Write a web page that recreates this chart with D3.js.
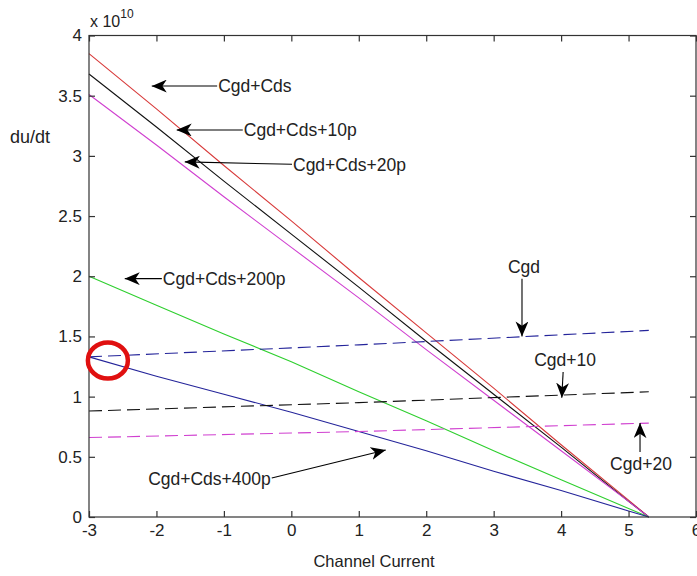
<!DOCTYPE html>
<html>
<head>
<meta charset="utf-8">
<script src="https://cdn.jsdelivr.net/npm/d3@7"></script>
<style>
  html, body { margin: 0; padding: 0; background: #fff; }
  svg { display: block; }
  text { font-family: "Liberation Sans", Arial, sans-serif; fill: #222; }
</style>
</head>
<body>
<svg id="chart" width="697" height="576"></svg>
<script>
// Axis ticks
const xTicks = [-3, -2, -1, 0, 1, 2, 3, 4, 5, 6];
const xTickLabels = ["-3", "-2", "-1", "0", "1", "2", "3", "4", "5", "6"];
const yTicks = [0, 0.5, 1, 1.5, 2, 2.5, 3, 3.5, 4];
const yTickLabels = ["0", "0.5", "1", "1.5", "2", "2.5", "3", "3.5", "4"];

// Channel current samples for the solid (Cgd+Cds family) curves
const currentSolid = [-3, -2, -1, 0, 1, 2, 3, 4, 5, 5.3];
// du/dt values, in units of 1e10
const dvCds    = [3.85, 3.39, 2.92, 2.46, 1.99, 1.53, 1.07, 0.60, 0.14, 0];
const dvCds10  = [3.68, 3.24, 2.79, 2.35, 1.91, 1.46, 1.02, 0.58, 0.13, 0];
const dvCds20  = [3.51, 3.09, 2.66, 2.24, 1.82, 1.39, 0.97, 0.55, 0.13, 0];
const dvCds200 = [2.00, 1.76, 1.52, 1.29, 1.04, 0.80, 0.55, 0.31, 0.07, 0];
const dvCds400 = [1.33, 1.17, 1.02, 0.87, 0.71, 0.55, 0.38, 0.22, 0.05, 0];

// Channel current samples for the dashed (Cgd only) curves
const currentDashed = [-3, 1, 5.3];
const dvCgd   = [1.33, 1.43, 1.55];
const dvCgd10 = [0.88, 0.95, 1.04];
const dvCgd20 = [0.66, 0.71, 0.78];

// Callout labels: text, arrow tail (tx, ty), arrow tip (hx, hy), text placement
const labels      = ["Cgd+Cds", "Cgd+Cds+10p", "Cgd+Cds+20p", "Cgd+Cds+200p", "Cgd", "Cgd+10", "Cgd+20", "Cgd+Cds+400p"];
const labelTailX  = [-1.10, -0.72, 0.01, -1.92, 3.42, 4.03, 5.17, -0.29];
const labelTailY  = [3.58, 3.215, 2.93, 1.98, 1.98, 1.205, 0.54, 0.324];
const labelTipX   = [-2.07, -1.70, -1.58, -2.47, 3.42, 4.01, 5.17, 1.40];
const labelTipY   = [3.58, 3.215, 2.95, 1.98, 1.50, 0.99, 0.78, 0.557];
const labelSide   = ["right", "right", "right", "right", "above", "above", "below", "left"];

const svg = d3.select("#chart");
const plotLeft = 89, plotRight = 696, plotTop = 35.5, plotBottom = 517;

const x = d3.scaleLinear().domain([-3, 6]).range([plotLeft, plotRight]);
const y = d3.scaleLinear().domain([0, 4]).range([plotBottom, plotTop]);

// Curves
const line = d3.line().x(d => x(d[0])).y(d => y(d[1]));
const solidSeries = [
  { v: dvCds,    c: "#d83a3a" },
  { v: dvCds10,  c: "#111111" },
  { v: dvCds20,  c: "#d040d0" },
  { v: dvCds200, c: "#2ecf2e" },
  { v: dvCds400, c: "#24249a" }
];
const dashedSeries = [
  { v: dvCgd,   c: "#24249a" },
  { v: dvCgd10, c: "#111111" },
  { v: dvCgd20, c: "#d040d0" }
];

const plot = svg.append("g");
solidSeries.forEach(s => {
  plot.append("path")
    .datum(currentSolid.map((c, i) => [c, s.v[i]]))
    .attr("d", line).attr("fill", "none")
    .attr("stroke", s.c).attr("stroke-width", 1.1);
});
dashedSeries.forEach(s => {
  plot.append("path")
    .datum(currentDashed.map((c, i) => [c, s.v[i]]))
    .attr("d", line).attr("fill", "none")
    .attr("stroke", s.c).attr("stroke-width", 1.1)
    .attr("stroke-dasharray", "13,6");
});

// Axes box with inward ticks on all four sides
const axisG = svg.append("g");
axisG.append("rect")
  .attr("x", plotLeft).attr("y", plotTop)
  .attr("width", plotRight - plotLeft).attr("height", plotBottom - plotTop)
  .attr("fill", "none").attr("stroke", "#333").attr("stroke-width", 1.2);

const xb = axisG.append("g").attr("transform", `translate(0,${plotBottom})`)
  .call(d3.axisBottom(x).tickValues(xTicks).tickSize(-6).tickPadding(9).tickFormat((d, i) => xTickLabels[i]));
const xt = axisG.append("g").attr("transform", `translate(0,${plotTop})`)
  .call(d3.axisTop(x).tickValues(xTicks).tickSize(-6).tickFormat(""));
const yl = axisG.append("g").attr("transform", `translate(${plotLeft},0)`)
  .call(d3.axisLeft(y).tickValues(yTicks).tickSize(-6).tickPadding(7).tickFormat((d, i) => yTickLabels[i]));
const yr = axisG.append("g").attr("transform", `translate(${plotRight},0)`)
  .call(d3.axisRight(y).tickValues(yTicks).tickSize(-6).tickFormat(""));

[xb, xt, yl, yr].forEach(g => {
  g.select(".domain").remove();
  g.selectAll(".tick line").attr("stroke", "#333").attr("stroke-width", 1.2);
  g.selectAll(".tick text")
    .attr("font-family", "'Liberation Sans', Arial, sans-serif")
    .attr("font-size", 17).attr("fill", "#2a2a2a");
});
xb.selectAll(".tick text").attr("dy", "0.6em");

// Exponent marker
const expo = svg.append("text").attr("x", plotLeft + 1).attr("y", 27).attr("font-size", 16);
expo.append("tspan").text("x 10");
expo.append("tspan").attr("dy", -9).attr("font-size", 12).text("10");

// Axis titles
svg.append("text").attr("x", 10).attr("y", 143).attr("font-size", 18).text("du/dt");
svg.append("text").attr("x", 374).attr("y", 567)
  .attr("text-anchor", "middle")
  .attr("font-family", "'DejaVu Sans', Tahoma, sans-serif")
  .attr("font-size", 16.5).text("Channel Current");

// Arrow heads
const defs = svg.append("defs");
defs.append("marker").attr("id", "head")
  .attr("viewBox", "0 0 14 12").attr("refX", 14).attr("refY", 6)
  .attr("markerUnits", "userSpaceOnUse")
  .attr("markerWidth", 15).attr("markerHeight", 13).attr("orient", "auto")
  .append("path").attr("d", "M0,0 L14,6 L0,12 L4,6 Z").attr("fill", "#000");

// Callouts
const notes = svg.append("g");
labels.forEach((t, i) => {
  const tx = x(labelTailX[i]), ty = y(labelTailY[i]);
  const hx = x(labelTipX[i]), hy = y(labelTipY[i]);
  notes.append("line")
    .attr("x1", tx).attr("y1", ty).attr("x2", hx).attr("y2", hy)
    .attr("stroke", "#000").attr("stroke-width", 1.1)
    .attr("marker-end", "url(#head)");
  const txt = notes.append("text").attr("font-size", 17.5).attr("fill", "#111").text(t);
  if (labelSide[i] === "right") {
    txt.attr("x", tx + 1).attr("y", ty).attr("dy", "0.36em");
  } else if (labelSide[i] === "left") {
    txt.attr("x", tx - 1).attr("y", ty + 1).attr("dy", "0.36em").attr("text-anchor", "end");
  } else if (labelSide[i] === "above") {
    txt.attr("x", tx + 2).attr("y", ty - 12).attr("dy", "0.36em").attr("text-anchor", "middle");
  } else {
    txt.attr("x", tx + 1).attr("y", ty + 12).attr("dy", "0.36em").attr("text-anchor", "middle");
  }
});

// Highlight ring at the starting point of the Cgd / Cgd+Cds+400p curves
svg.append("ellipse")
  .attr("cx", x(-2.72)).attr("cy", y(1.3))
  .attr("rx", 20).attr("ry", 18)
  .attr("fill", "none").attr("stroke", "#e01010").attr("stroke-width", 4.5);
</script>
</body>
</html>
